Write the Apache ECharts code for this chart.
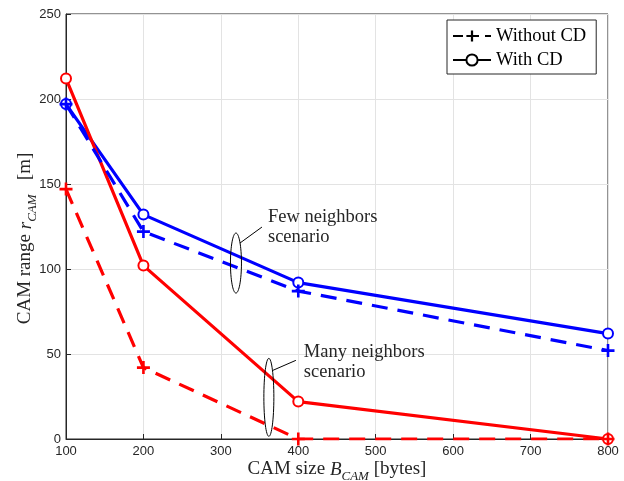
<!DOCTYPE html>
<html>
<head>
<meta charset="utf-8">
<script src="https://cdn.jsdelivr.net/npm/echarts@6/dist/echarts.min.js"></script>
<style>
  html, body { margin: 0; padding: 0; background: #fff; }
  #chart { width: 624px; height: 481px; }
</style>
</head>
<body>
<div id="chart"></div>
<script>
// CAM size on the x axis (bytes)
const camSizes = [100, 200, 400, 800];

// CAM range r_CAM (m)
const fewWithCD = [197, 132, 92, 62];
const fewWithoutCD = [197, 122, 87, 52];
const manyWithCD = [212, 102, 22, 0];
const manyWithoutCD = [147, 42, 0, 0];

const xTicks = [100, 200, 300, 400, 500, 600, 700, 800];
const yTicks = [0, 50, 100, 150, 200, 250];

const BLUE = '#0000ff';
const RED = '#ff0000';
const INK = '#262626';
const SERIF = '"Liberation Serif", "DejaVu Serif", serif';
const SANS = '"Liberation Sans", Arial, sans-serif';
const TITLE_SIZE = 19;

const plusPath = 'path://M-1,-0.2 L-0.2,-0.2 L-0.2,-1 L0.2,-1 L0.2,-0.2 L1,-0.2 L1,0.2 L0.2,0.2 L0.2,1 L-0.2,1 L-0.2,0.2 L-1,0.2 Z';

function pairs(ys) { return camSizes.map((x, i) => [x, ys[i]]); }

function lineSeries(name, ys, color, dashed) {
  return {
    type: 'line',
    name: name,
    data: pairs(ys),
    symbol: dashed ? plusPath : 'emptyCircle',
    symbolSize: dashed ? 13 : 10,
    showAllSymbol: true,
    lineStyle: { color: color, width: 3.2, type: dashed ? [16, 10] : 'solid' },
    itemStyle: { color: color, borderColor: color, borderWidth: dashed ? 0 : 2.8 },
    emphasis: { disabled: true },
    z: dashed ? 4 : 3
  };
}

// legend-only series in black
function legendSeries(name, dashed) {
  return {
    type: 'line', name: name, data: [],
    symbol: dashed ? plusPath : 'emptyCircle',
    symbolSize: dashed ? 13 : 10,
    lineStyle: { color: '#000', width: 3.2, type: dashed ? [10, 6] : 'solid' },
    itemStyle: { color: '#000', borderColor: '#000', borderWidth: dashed ? 0 : 2.8 }
  };
}

function richTitle() {
  return {
    a: { fontFamily: SERIF, fontSize: TITLE_SIZE, color: INK, lineHeight: 22, verticalAlign: 'bottom' },
    i: { fontFamily: SERIF, fontSize: TITLE_SIZE, fontStyle: 'italic', color: INK, lineHeight: 22, verticalAlign: 'bottom' },
    s: { fontFamily: SERIF, fontSize: 13, fontStyle: 'italic', color: INK, lineHeight: 15, verticalAlign: 'bottom', padding: [0, 0, -4, 0] }
  };
}

const chart = echarts.init(document.getElementById('chart'), null, { renderer: 'canvas' });

const option = {
  animation: false,
  backgroundColor: '#fff',
  grid: {
    left: 66, right: 16, top: 14, bottom: 42,
    outerBoundsMode: 'none', containLabel: false,
    show: true, borderColor: INK, borderWidth: 1, backgroundColor: 'transparent'
  },
  legend: {
    data: ['Without CD', 'With CD'],
    orient: 'vertical',
    left: 447, top: 20,
    padding: [5, 10, 3, 5],
    itemGap: 2,
    itemWidth: 38, itemHeight: 14,
    backgroundColor: '#fff',
    borderColor: INK, borderWidth: 1,
    textStyle: { fontFamily: SERIF, fontSize: 18.5, color: '#000', lineHeight: 22 }
  },
  xAxis: {
    type: 'value', min: 100, max: 800, interval: 100,
    name: '{a|CAM size }{i|B}{s|CAM}{a| [bytes]}',
    nameLocation: 'middle', nameGap: 18, nameMoveOverlap: false,
    nameTextStyle: { rich: richTitle() },
    axisLine: { lineStyle: { color: INK, width: 1 } },
    axisTick: { inside: true, length: 5, lineStyle: { color: INK } },
    axisLabel: { fontFamily: SANS, fontSize: 13, color: INK, margin: 6,
      formatter: v => (xTicks.indexOf(v) >= 0 ? String(v) : '') },
    splitLine: { show: true, lineStyle: { color: '#e3e3e3', width: 1 } }
  },
  yAxis: {
    type: 'value', min: 0, max: 250, interval: 50,
    name: '{a|CAM range }{i|r}{s|CAM}{a|   [m]}',
    nameLocation: 'middle', nameGap: 31, nameRotate: 90, nameMoveOverlap: false,
    nameTextStyle: { rich: richTitle(), padding: [0, 24, 0, 0] },
    axisLine: { show: true, lineStyle: { color: INK, width: 1 } },
    axisTick: { show: true, inside: true, length: 5, lineStyle: { color: INK } },
    axisLabel: { fontFamily: SANS, fontSize: 13, color: INK, margin: 5,
      formatter: v => (yTicks.indexOf(v) >= 0 ? String(v) : '') },
    splitLine: { show: true, lineStyle: { color: '#e3e3e3', width: 1 } }
  },
  series: [
    lineSeries('Few, without CD', fewWithoutCD, BLUE, true),
    lineSeries('Few, with CD', fewWithCD, BLUE, false),
    lineSeries('Many, without CD', manyWithoutCD, RED, true),
    lineSeries('Many, with CD', manyWithCD, RED, false),
    legendSeries('Without CD', true),
    legendSeries('With CD', false)
  ]
};

chart.setOption(option);

// Scenario callouts: ellipse around the curves, a leader line and a two-line note
const callouts = [
  { text: 'Few neighbors\nscenario', at: [319.5, 103.5], rx: 5.5, ry: 30, from: [4, -20], to: [26, -36], textOffset: [32, -56] },
  { text: 'Many neighbors\nscenario', at: [362, 24.5], rx: 5, ry: 39, from: [4, -27], to: [27, -37], textOffset: [35, -55] }
];

const graphics = [];
callouts.forEach(c => {
  const p = chart.convertToPixel({ gridIndex: 0 }, c.at);
  graphics.push({
    type: 'ellipse', shape: { cx: p[0], cy: p[1], rx: c.rx, ry: c.ry },
    style: { fill: 'none', stroke: '#000', lineWidth: 1 }, z: 10
  });
  graphics.push({
    type: 'line', shape: { x1: p[0] + c.from[0], y1: p[1] + c.from[1], x2: p[0] + c.to[0], y2: p[1] + c.to[1] },
    style: { stroke: '#000', lineWidth: 1 }, z: 10
  });
  graphics.push({
    type: 'text', x: p[0] + c.textOffset[0], y: p[1] + c.textOffset[1],
    style: { text: c.text, font: '18.5px ' + SERIF, fill: INK, lineHeight: 20 }, z: 10
  });
});
chart.setOption({ graphic: graphics });
</script>
</body>
</html>
